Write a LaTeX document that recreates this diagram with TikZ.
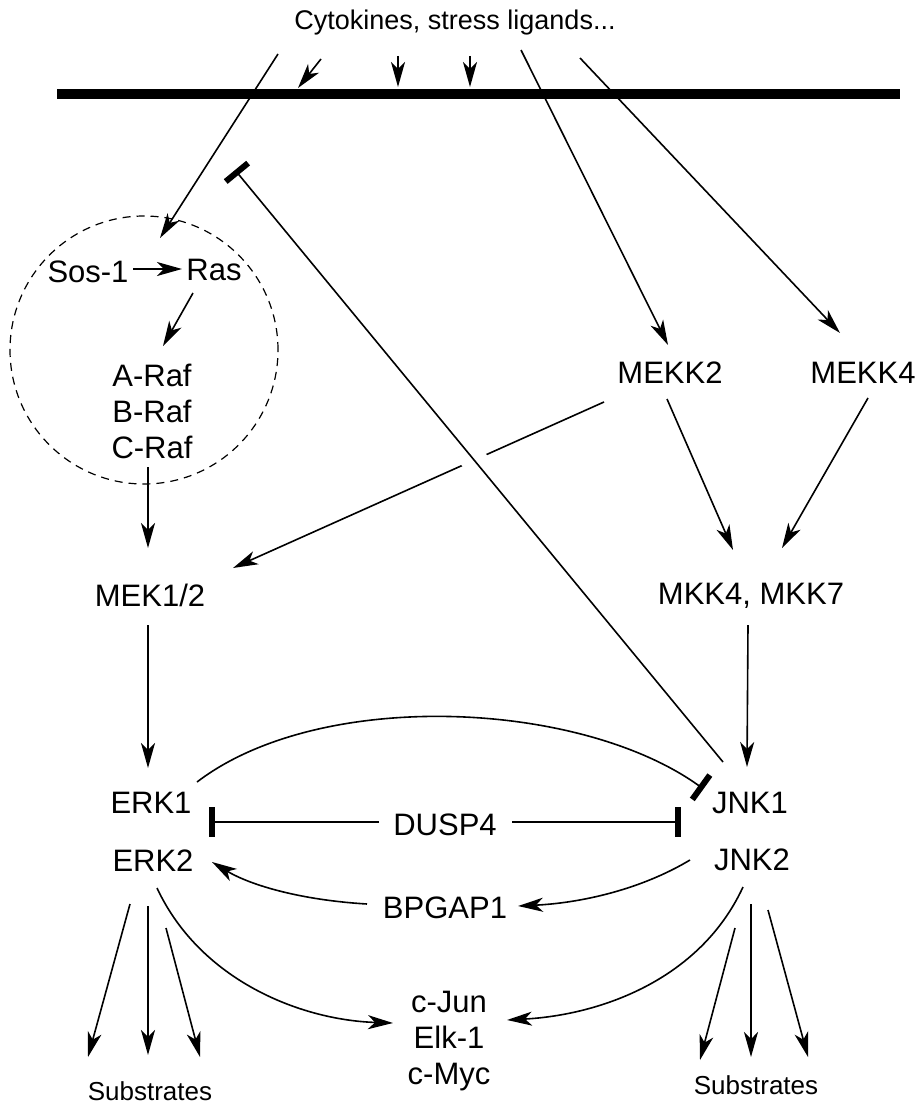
\documentclass[tikz,border=0pt]{standalone}
\usepackage{fontspec}
\setmainfont{Liberation Sans}
\usetikzlibrary{arrows.meta,calc}
\begin{document}
\begin{tikzpicture}[x=1pt,y=-1pt,
  lbl/.style={font=\fontsize{31}{36}\selectfont, inner sep=0pt, text height=22.2pt, text depth=0pt},
  lblgrp/.style={font=\fontsize{31}{36}\selectfont, inner sep=0pt, align=center},
  ttl/.style={font=\fontsize{27}{32}\selectfont, inner sep=0pt, text height=19.3pt, text depth=0pt},
  small/.style={font=\fontsize{26}{30}\selectfont, inner sep=0pt, text height=18.6pt, text depth=0pt},
  arr/.style={line width=1.6pt, -{Stealth[length=25pt,width=14pt,inset=7pt]}},
  inh/.style={line width=1.6pt, -{Rectangle[length=6pt,width=30pt]}},
  membrane/.style={line width=10pt},
  cell/.style={line width=1.2pt, dash pattern=on 8pt off 6pt}
]
\useasboundingbox (0,0) rectangle (919,1105);

% membrane and dashed region
\draw[membrane] (57,94) -- (900,94);
\draw[cell] (144,350) circle[radius=134pt];

% nodes
\node[ttl] (title) at (455,20) {Cytokines, stress ligands...};
\node[lbl] (sos) at (88,271) {Sos-1};
\node[lbl] (ras) at (214,269) {Ras};
\node[lblgrp] (raf) at (152,411) {A-Raf\\B-Raf\\C-Raf};
\node[lbl] (mekk2) at (670,372) {MEKK2};
\node[lbl] (mekk4) at (863,372) {MEKK4};
\node[lbl] (mek) at (150,595) {MEK1/2};
\node[lbl] (mkk) at (751,593) {MKK4, MKK7};
\node[lbl] (erk1) at (151,802) {ERK1};
\node[lbl] (erk2) at (153,860) {ERK2};
\node[lbl] (jnk1) at (750,802) {JNK1};
\node[lbl] (jnk2) at (752,859) {JNK2};
\node[lbl] (dusp) at (445,824) {DUSP4};
\node[lbl] (bpgap) at (445,907) {BPGAP1};
\node[lblgrp] (tf) at (449,1041) {c-Jun\\Elk-1\\c-Myc};
\node[small] (subl) at (150,1091) {Substrates};
\node[small] (subr) at (756,1085) {Substrates};

% free ends at the top
\coordinate (s1) at (278,54);
\coordinate (s2a) at (321,59);
\coordinate (s2b) at (298,88);
\coordinate (s3a) at (398,56);
\coordinate (s3b) at (398,87);
\coordinate (s4a) at (470,56);
\coordinate (s4b) at (470,87);
\coordinate (s5) at (521,50);
\coordinate (s6) at (580,58);
\coordinate (inhtop) at (235,170);

% ligand arrows
\draw[arr] (s1) -- ([shift={(-54,-31)}]ras.center);
\draw[arr] (s2a) -- (s2b);
\draw[arr] (s3a) -- (s3b);
\draw[arr] (s4a) -- (s4b);
\draw[arr] (s5) -- ([shift={(-2,-27)}]mekk2.center);
\draw[arr] (s6) -- ([shift={(-23,-39)}]mekk4.center);

% Ras cascade
\draw[arr] ([shift={(45,-2)}]sos.center) -- ([shift={(-32,0)}]ras.center);
\draw[arr] ([shift={(-21,24)}]ras.center) -- ([shift={(11,-65)}]raf.center);
\draw[arr] ([shift={(-4,56)}]raf.center) -- ([shift={(-2,-47)}]mek.center);

% MEKK2 to MEK1/2, crossed by the inhibition line
\draw[arr] ([shift={(-66,30)}]mekk2.center) -- ([shift={(83,-27)}]mek.center);
\coordinate (inhstart) at ([shift={(-27,-40)}]jnk1.center);
\draw[white, line width=26pt] ($(inhstart)!0.46!(inhtop)$) -- ($(inhstart)!0.56!(inhtop)$);
\draw[inh, -{Rectangle[length=6pt,width=29pt]}] (inhstart) -- (inhtop);

\draw[arr] ([shift={(-3,27)}]mekk2.center) -- ([shift={(-18,-43)}]mkk.center);
\draw[arr] ([shift={(5,26)}]mekk4.center) -- ([shift={(31,-45)}]mkk.center);

\draw[arr] ([shift={(-2,30)}]mek.center) -- ([shift={(-3,-34)}]erk1.center);
\draw[arr] ([shift={(-3,32)}]mkk.center) -- ([shift={(-3,-35)}]jnk1.center);

% ERK1 inhibits JNK1
\draw[inh] ([shift={(46,-20)}]erk1.center) .. controls (320,688) and (580,700) .. ([shift={(-46.5,-13)}]jnk1.center);

% DUSP4
\draw[inh] ([shift={(-66,-2)}]dusp.center) -- ([shift={(58,20)}]erk1.center);
\draw[inh] ([shift={(67,-2)}]dusp.center) -- ([shift={(-69,20)}]jnk1.center);

% BPGAP1
\draw[arr] ([shift={(-62,1)}]jnk2.center) .. controls (640,890) and (580,903) .. ([shift={(73,-1)}]bpgap.center);
\draw[arr] ([shift={(-78,-3)}]bpgap.center) .. controls (300,900) and (250,885) .. ([shift={(59,2)}]erk2.center);

% transcription factors
\draw[arr] ([shift={(4,28)}]erk2.center) .. controls (200,980) and (300,1020) .. ([shift={(-56,-18)}]tf.center);
\draw[arr] ([shift={(-9,28)}]jnk2.center) .. controls (700,980) and (600,1015) .. ([shift={(58,-21)}]tf.center);

% substrates
\draw[arr] ([shift={(-23,44)}]erk2.center) -- ([shift={(-62,-34)}]subl.center);
\draw[arr] ([shift={(-5,46)}]erk2.center) -- ([shift={(-2,-36)}]subl.center);
\draw[arr] ([shift={(13,68)}]erk2.center) -- ([shift={(50,-34)}]subl.center);
\draw[arr] ([shift={(-17,69)}]jnk2.center) -- ([shift={(-56,-25)}]subr.center);
\draw[arr] ([shift={(-1,45)}]jnk2.center) -- ([shift={(-5,-28)}]subr.center);
\draw[arr] ([shift={(16,51)}]jnk2.center) -- ([shift={(52,-28)}]subr.center);
\end{tikzpicture}
\end{document}
